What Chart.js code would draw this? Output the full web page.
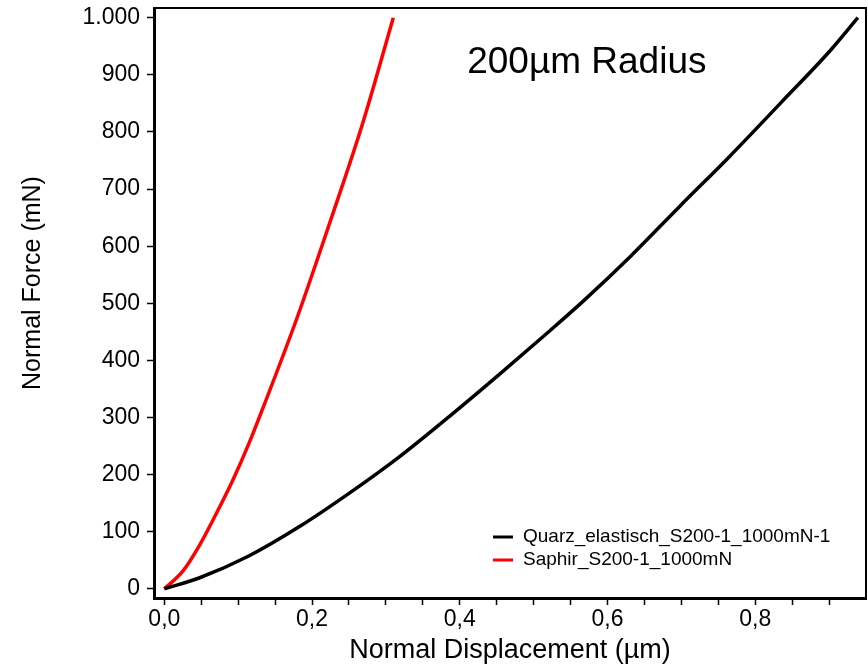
<!DOCTYPE html>
<html>
<head>
<meta charset="utf-8">
<script src="https://cdn.jsdelivr.net/npm/chart.js@4.4.1/dist/chart.umd.min.js"></script>
<style>
  html, body { margin: 0; padding: 0; background: #fff; }
  #wrap { width: 868px; height: 666px; }
</style>
</head>
<body>
<div id="wrap"><canvas id="chartForce" width="868" height="666"></canvas></div>
<script>
// Quarz, elastic indentation (displacement in µm, force in mN)
const quarzDisp  = [0, 0.047, 0.115, 0.183, 0.251, 0.319, 0.386, 0.454, 0.522, 0.569, 0.631, 0.698, 0.766, 0.834, 0.902, 0.939];
const quarzForce = [0, 19, 58, 109, 168, 232, 302, 376, 452, 506, 582, 670, 758, 850, 943, 1000];

// Saphir
const saphirDisp  = [0, 0.025, 0.047, 0.070, 0.093, 0.115, 0.133, 0.179, 0.224, 0.269, 0.310];
const saphirForce = [0, 31, 75, 131, 191, 256, 315, 472, 641, 817, 1000];

const seriesLabels = ["Quarz_elastisch_S200-1_1000mN-1", "Saphir_S200-1_1000mN"];
const seriesColors = ["#000000", "#ff0000"];

const xTickValues = [0, 0.05, 0.1, 0.15, 0.2, 0.25, 0.3, 0.35, 0.4, 0.45, 0.5, 0.55, 0.6, 0.65, 0.7, 0.75, 0.8, 0.85, 0.9];
const xLabelValues = [0, 0.2, 0.4, 0.6, 0.8];
const yTickValues = [0, 100, 200, 300, 400, 500, 600, 700, 800, 900, 1000];

const titleText = "200µm Radius";
const xTitle = "Normal Displacement (µm)";
const yTitle = "Normal Force (mN)";

const FONT = "'Liberation Sans', Arial, sans-serif";
Chart.defaults.font.family = FONT;
Chart.defaults.color = "#000";

const toPoints = (xs, ys) => xs.map((x, i) => ({ x, y: ys[i] }));

// frame top/right, y title, text label and legend inside the plot
const extras = {
  id: "extras",
  afterDraw(chart) {
    const { ctx, chartArea: a, scales } = chart;
    ctx.save();
    ctx.strokeStyle = "#000";
    ctx.lineWidth = 2;
    ctx.beginPath();
    ctx.moveTo(a.left, a.top);
    ctx.lineTo(a.right, a.top);
    ctx.lineTo(a.right, a.bottom);
    ctx.stroke();

    ctx.fillStyle = "#000";
    ctx.font = "37px " + FONT;
    ctx.textAlign = "center";
    ctx.textBaseline = "alphabetic";
    ctx.fillText(titleText, scales.x.getPixelForValue(0.572), scales.y.getPixelForValue(903));

    ctx.save();
    ctx.translate(33, 283);
    ctx.rotate(-Math.PI / 2);
    ctx.font = "25px " + FONT;
    ctx.textBaseline = "middle";
    ctx.fillText(yTitle, 0, 0);
    ctx.restore();

    ctx.font = "19px " + FONT;
    ctx.textAlign = "left";
    ctx.textBaseline = "middle";
    chart.data.datasets.forEach((ds, i) => {
      const y = a.bottom - 61 + i * 23;
      const x = a.right - 373;
      ctx.strokeStyle = ds.borderColor;
      ctx.lineWidth = 3;
      ctx.beginPath();
      ctx.moveTo(x, y);
      ctx.lineTo(x + 20, y);
      ctx.stroke();
      ctx.fillText(ds.label, x + 30, y);
    });
    ctx.restore();
  }
};

const fmtX = v => v.toFixed(1).replace(".", ",");
const fmtY = v => v >= 1000 ? "1." + String(v).slice(1) : String(v);

new Chart(document.getElementById("chartForce"), {
  type: "scatter",
  data: {
    datasets: [
      {
        label: seriesLabels[0],
        data: toPoints(quarzDisp, quarzForce),
        borderColor: seriesColors[0],
        backgroundColor: seriesColors[0],
        borderWidth: 3.5,
        showLine: true,
        pointRadius: 0,
        cubicInterpolationMode: "monotone"
      },
      {
        label: seriesLabels[1],
        data: toPoints(saphirDisp, saphirForce),
        borderColor: seriesColors[1],
        backgroundColor: seriesColors[1],
        borderWidth: 3.5,
        showLine: true,
        pointRadius: 0,
        cubicInterpolationMode: "monotone"
      }
    ]
  },
  options: {
    responsive: false,
    animation: false,
    layout: { padding: { left: 0, top: 8, right: 2, bottom: 0 } },
    plugins: {
      legend: { display: false },
      tooltip: { enabled: false }
    },
    scales: {
      x: {
        type: "linear",
        min: -0.014,
        max: 0.95,
        afterFit: s => { s.height = 68; s.paddingLeft = 0; s.paddingRight = 0; },
        afterBuildTicks: s => { s.ticks = xTickValues.map(v => ({ value: v })); },
        ticks: {
          autoSkip: false,
          maxRotation: 0,
          padding: 1,
          font: { size: 23 },
          callback: v => xLabelValues.some(t => Math.abs(t - v) < 1e-9) ? fmtX(v) : ""
        },
        grid: { drawOnChartArea: false, drawTicks: true, tickLength: 7, tickColor: "#000", tickWidth: 1.5 },
        border: { display: true, color: "#000", width: 3 },
        title: { display: true, text: xTitle, font: { size: 27, lineHeight: 1 }, padding: { top: 0, bottom: 2 } }
      },
      y: {
        type: "linear",
        min: -16,
        max: 1017,
        afterFit: s => { s.width = 154; s.paddingTop = 0; s.paddingBottom = 0; },
        afterBuildTicks: s => { s.ticks = yTickValues.map(v => ({ value: v })); },
        ticks: {
          autoSkip: false,
          padding: 7,
          font: { size: 23 },
          callback: v => fmtY(v)
        },
        grid: { drawOnChartArea: false, drawTicks: true, tickLength: 7, tickColor: "#000", tickWidth: 1.5 },
        border: { display: true, color: "#000", width: 3 }
      }
    }
  },
  plugins: [extras]
});
</script>
</body>
</html>
